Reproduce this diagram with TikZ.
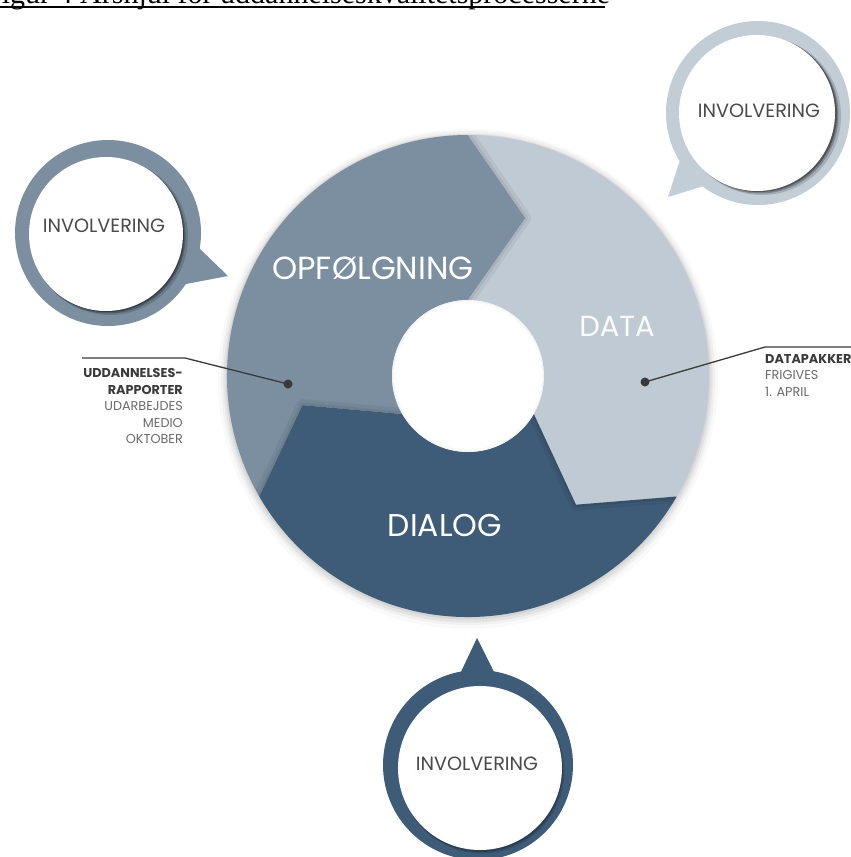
\documentclass[tikz,border=0pt]{standalone}
\usepackage{fontspec}
\newfontfamily\geo{Poppins}
\newfontfamily\titlefont{Liberation Serif}
\definecolor{opf}{HTML}{7B8FA0}
\definecolor{dat}{HTML}{BFCAD4}
\definecolor{dia}{HTML}{3E5B77}
\definecolor{bub}{HTML}{C3CDD6}
\definecolor{ink}{HTML}{3A3A3A}
\definecolor{inkl}{HTML}{6A6A6A}
\definecolor{invtxt}{HTML}{4A4A4A}
\begin{document}
\begin{tikzpicture}[x=1pt,y=1pt,
  seglab/.style={inner sep=0pt, text=white, font=\geo\fontsize{32}{38}\selectfont, anchor=base},
  invol/.style={inner sep=0pt, text=invtxt, font=\geo\fontsize{19.2}{23}\selectfont, anchor=base},
  annb/.style={inner sep=0pt, text=ink, font=\geo\bfseries\fontsize{12.8}{15}\selectfont},
  annl/.style={inner sep=0pt, text=inkl, font=\geo\fontsize{12.8}{15}\selectfont},
  dotnode/.style={circle, fill=ink, inner sep=0pt, minimum size=9pt},
  conn/.style={draw=ink, line width=1.3pt},
  shad/.style={fill=black, opacity=#1},
  shad/.default=0.05]
\clip (0,0) rectangle (851,-857);
\fill[white] (0,0) rectangle (851,-857);

% title (cut off at top, as in the reference)
\node[anchor=base west, inner sep=0pt, font=\titlefont\fontsize{30}{36}\selectfont] (title) at (-15,-3.5) {Figur 4 Årshjul for uddannelseskvalitetsprocesserne};
\draw[line width=1.4pt] (0,-6.8) -- (605,-6.8);

% ===== main ring =====
\begin{scope}[shift={(468,-376)}]
  \fill[shad=0.025] (0,-3) circle[radius=250];
  \fill[shad=0.035] (0,-2) circle[radius=247];
  \fill[shad=0.05] (0,-2) circle[radius=244.5];
  \fill[shad=0.06] (0,-1) circle[radius=242.5];
  \fill[opf] (210:241) arc[start angle=210,end angle=90,radius=241] -- (70:168) -- (90:76) arc[start angle=90,end angle=210,radius=76] -- (190:168) -- cycle;
  \fill[dat] (90:241) arc[start angle=90,end angle=-30,radius=241] -- (-50:168) -- (-30:76) arc[start angle=-30,end angle=90,radius=76] -- (70:168) -- cycle;
  \fill[dia] (-30:241) arc[start angle=-30,end angle=-150,radius=241] -- (-170:168) -- (-150:76) arc[start angle=-150,end angle=-30,radius=76] -- (-50:168) -- cycle;
  % soft shadows cast by the arrow tips
  \begin{scope}
    \clip (90:241) arc[start angle=90,end angle=-30,radius=241] -- (-50:168) -- (-30:76) arc[start angle=-30,end angle=90,radius=76] -- (70:168) -- cycle;
    \draw[black,opacity=0.05,line width=12pt,line join=round] (90:260) -- (90:241) -- (70:168) -- (90:76) -- (90:60);
    \draw[black,opacity=0.06,line width=5pt,line join=round] (90:260) -- (90:241) -- (70:168) -- (90:76) -- (90:60);
  \end{scope}
  \begin{scope}
    \clip (-30:241) arc[start angle=-30,end angle=-150,radius=241] -- (-170:168) -- (-150:76) arc[start angle=-150,end angle=-30,radius=76] -- (-50:168) -- cycle;
    \draw[black,opacity=0.05,line width=12pt,line join=round] (-30:260) -- (-30:241) -- (-50:168) -- (-30:76) -- (-30:60);
    \draw[black,opacity=0.06,line width=5pt,line join=round] (-30:260) -- (-30:241) -- (-50:168) -- (-30:76) -- (-30:60);
  \end{scope}
  \begin{scope}
    \clip (210:241) arc[start angle=210,end angle=90,radius=241] -- (70:168) -- (90:76) arc[start angle=90,end angle=210,radius=76] -- (190:168) -- cycle;
    \draw[black,opacity=0.05,line width=12pt,line join=round] (210:260) -- (210:241) -- (190:168) -- (210:76) -- (210:60);
    \draw[black,opacity=0.06,line width=5pt,line join=round] (210:260) -- (210:241) -- (190:168) -- (210:76) -- (210:60);
  \end{scope}
  % hole with a soft edge
  \fill[white] (0,0) circle[radius=76];
  \fill[shad=0.05] (0,0) circle[radius=76];
  \fill[white,opacity=0.6] (0,0) circle[radius=75];
  \fill[white] (0,0) circle[radius=73.5];
\end{scope}

\node[seglab] (opfl) at (373,-279.5) {OPFØLGNING};
\node[seglab, font=\geo\fontsize{29}{35}\selectfont, text=white!95!dat] (datal) at (617,-336) {DATA};
\node[seglab, font=\geo\fontsize{31.5}{37}\selectfont] (dial) at (445,-536) {DIALOG};

% ===== bubble top right =====
\fill[bub] (758,-113) circle[radius=92];
\fill[bub] (680,-160) -- (668,-197) -- (707,-185) -- (720,-165) -- cycle;
\fill[shad=0.15] (762,-116) circle[radius=79];
\fill[shad=0.25] (760,-115) circle[radius=78.5];
\fill[shad=0.35] (759,-114) circle[radius=78];
\fill[white] (757,-113) circle[radius=78];
\node[invol] (inv1) at (759,-117) {INVOLVERING};

% ===== bubble left =====
\fill[opf] (108,-233) circle[radius=93];
\fill[opf] (198,-247) -- (228,-276) -- (186,-284) -- (170,-265) -- cycle;
\fill[shad=0.15] (110,-237) circle[radius=78];
\fill[shad=0.25] (108,-236) circle[radius=77.5];
\fill[shad=0.35] (107,-235) circle[radius=77];
\fill[white] (106,-234) circle[radius=77];
\node[invol] (inv2) at (104,-232) {INVOLVERING};

% ===== bubble bottom =====
\fill[dia] (478,-765) circle[radius=95];
\fill[dia] (459,-676) -- (477,-638) -- (496,-676) -- (478,-690) -- cycle;
\fill[shad=0.12] (482,-771) circle[radius=82.5];
\fill[shad=0.22] (481,-770) circle[radius=82];
\fill[white] (480,-768) circle[radius=82];
\node[invol] (inv3) at (477,-770) {INVOLVERING};

% ===== annotations =====
\coordinate (e1) at (82,-358);
\coordinate (k1) at (185,-358);
\node[dotnode] (d1) at (288,-384) {};
\draw[conn] (e1) -- (k1) -- (d1.center);
\node[annb, anchor=base east] (l1a) at (183,-377.5) {UDDANNELSES-};
\node[annb, anchor=base east] (l1b) at (183,-394) {RAPPORTER};
\node[annl, anchor=base east] (l1c) at (183,-410.5) {UDARBEJDES};
\node[annl, anchor=base east] (l1d) at (183,-427) {MEDIO};
\node[annl, anchor=base east] (l1e) at (183,-443.5) {OKTOBER};

\node[dotnode] (d2) at (645,-382) {};
\coordinate (k2) at (765,-347);
\coordinate (e2) at (851,-347);
\draw[conn] (d2.center) -- (k2) -- (e2);
\node[annb, anchor=base west] (r1a) at (765,-363.5) {DATAPAKKER};
\node[annl, anchor=base west] (r1b) at (765,-379.5) {FRIGIVES};
\node[annl, anchor=base west] (r1c) at (765,-396.5) {1. APRIL};
\end{tikzpicture}
\end{document}
